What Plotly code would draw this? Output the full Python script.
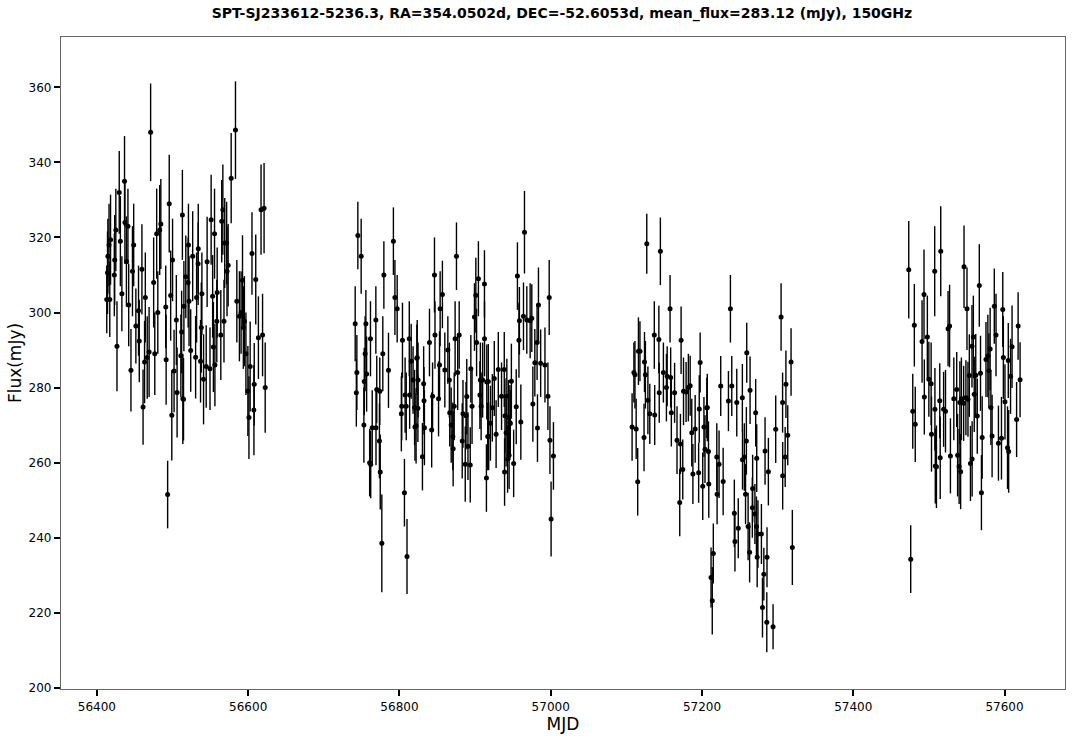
import plotly.graph_objects as go

# ---- Data ----
mjd_c1 = [56413, 56414, 56414.5, 56416, 56417, 56418, 56423, 56423.5, 56425, 56426.5,
          56429.5, 56431, 56433, 56436.5, 56437, 56439, 56441, 56442, 56445, 56447,
          56448.6, 56451.5, 56455, 56456, 56459.5, 56461, 56463, 56464, 56466.5, 56469,
          56471, 56475, 56476.5, 56479, 56480.5, 56483, 56484.5, 56491, 56491.5, 56493.5,
          56495.6, 56497.5, 56499, 56500, 56502, 56505, 56506, 56511, 56512, 56513,
          56513.6, 56514.5, 56515, 56517.5, 56520.6, 56521, 56521.8, 56524, 56526.6, 56530.5,
          56531.8, 56533.8, 56534, 56537, 56538, 56538.8, 56541, 56544.5, 56545.7, 56549.5,
          56551, 56553, 56554, 56555.5, 56556, 56558.5, 56559, 56563.8, 56565, 56566.5,
          56568, 56569, 56571.5, 56572, 56573.5, 56577.5, 56583.2, 56585, 56588.4, 56590.6,
          56592.5, 56593.6, 56595, 56597, 56599.6, 56601, 56602.6, 56605, 56607.6, 56608,
          56610, 56613.5, 56617, 56619, 56621, 56622.5]
flux_c1 = [303.5, 310.6, 315, 318, 303.5, 319.4, 310, 314, 322, 291,
           332, 319, 305, 335, 324, 313.6, 323, 302, 284.6, 311,
           318, 296.4, 300.5, 292.4, 311.5, 274.8, 286.8, 304, 288, 289.5,
           348, 308, 289, 321, 300, 322, 323.6, 301.5, 287.4, 251.5,
           329, 304.5, 272.6, 314, 284.4, 298, 278.7, 288.5, 294.8, 326,
           277, 276.9, 301.7, 309.5, 308, 318, 303, 289.9, 315, 288.1,
           304, 313, 317, 287, 296, 305, 282.2, 285.6, 313.5, 285,
           324.7, 304.3, 290.8, 321, 286, 297.7, 305.3, 294, 324.3, 327.4,
           297.7, 318.5, 318.5, 311, 312.6, 335.8, 348.6, 303, 299, 300,
           308.6, 296, 297.7, 289, 279.1, 272, 285.6, 315.7, 274, 280.9,
           308.8, 293.3, 327.4, 294, 327.8, 280]
err_c1 = [9, 11, 10, 11, 10, 12, 11, 12, 11, 12,
          11, 12, 10, 12, 11, 12, 10, 11, 11, 12,
          11, 10, 12, 11, 12, 10, 11, 12, 11, 12,
          13, 12, 11, 12, 11, 12, 12, 11, 12, 9,
          13, 12, 12, 11, 11, 12, 12, 11, 11, 12,
          12, 11, 12, 11, 12, 11, 12, 11, 12, 11,
          12, 11, 12, 11, 12, 11, 12, 11, 12, 11,
          12, 11, 12, 12, 11, 11, 12, 12, 11, 12,
          11, 12, 11, 12, 11, 12, 13, 11, 12, 11,
          12, 11, 12, 11, 12, 11, 12, 11, 12, 11,
          12, 11, 12, 11, 12, 12]

mjd_c2 = [56741.5, 56743, 56743.7, 56745, 56749.4, 56753, 56753.5, 56754.6, 56755.6, 56756.6,
          56760.6, 56761.7, 56762, 56764, 56768.8, 56769, 56770, 56773.5, 56774, 56774.6,
          56776.7, 56778, 56779.4, 56785.5, 56792, 56794, 56797, 56802.5, 56803, 56804,
          56806.6, 56807.5, 56809, 56810, 56813, 56813.5, 56815.5, 56818, 56820, 56820.5,
          56822, 56823, 56823.5, 56824.4, 56824.6, 56830.4, 56832, 56832.5, 56833, 56839.7,
          56842.6, 56843.8, 56846.3, 56847, 56851.7, 56853, 56853.8, 56856.8, 56860, 56864,
          56866, 56866.5, 56868.4, 56870.6, 56871, 56872.4, 56873.6, 56875.4, 56877, 56879,
          56883, 56884, 56887, 56888, 56889, 56890.6, 56893.6, 56894.4, 56896, 56899.2,
          56901, 56902, 56904.4, 56906.4, 56907, 56908, 56910, 56912.4, 56912.5, 56915,
          56915.5, 56916.7, 56917.5, 56918, 56920.3, 56922.8, 56925.4, 56927.8, 56930.7, 56935,
          56938.6, 56939, 56939.5, 56941, 56942, 56943, 56944, 56945, 56946, 56946.6,
          56948, 56951, 56954.4, 56956, 56958, 56958.6, 56960.5, 56964, 56965.3, 56968.4,
          56972.8, 56975, 56976.4, 56979, 56982, 56982.5, 56983.8, 56986.7, 56992.4, 56996.3,
          56998, 56999, 57000.5, 57003.6]
flux_c2 = [297, 278.6, 284, 320.5, 315, 270, 281.6, 289, 297, 283.6,
           260, 293, 259.5, 269.3, 298, 269.3, 279.5, 265.8, 279, 257.5,
           238.5, 289, 310, 284.6, 319, 304, 301, 273, 275, 292.6,
           252, 278, 275, 235, 293, 278, 287, 282, 274.7, 269.5,
           269.8, 287.8, 288, 274.5, 282, 261.6, 281, 276.5, 269.3, 292,
           268.7, 277.7, 310, 294, 277, 286, 301, 304.8, 284.7, 290,
           282, 273.3, 270, 267, 263.7, 275, 293, 315, 284, 294,
           265.8, 273, 259.6, 272.5, 277.6, 264.4, 259.4, 285, 275, 298.8,
           304.6, 292, 309, 278, 282, 275, 282, 307.6, 293, 255.9,
           281.5, 267, 281.6, 267, 270.5, 274.6, 282.4, 267.6, 284.8, 277.7,
           284.8, 257.5, 272.5, 268, 277.7, 261, 272, 262, 270.7, 270.4,
           281.7, 259.8, 274.9, 309.7, 292.6, 297.8, 270.8, 299, 321.4, 298,
           297.8, 298.5, 275.6, 286.6, 292, 269.2, 302, 286.5, 286, 277.7,
           304, 266, 245, 261.8]
err_c2 = [10, 9, 10, 9, 10, 10, 9, 10, 9, 10,
          9, 10, 9, 10, 9, 10, 9, 10, 9, 10,
          13, 10, 9, 10, 9, 10, 9, 10, 9, 10,
          9, 10, 9, 10, 10, 9, 10, 9, 10, 9,
          10, 9, 10, 9, 10, 9, 10, 9, 10, 9,
          10, 9, 10, 9, 10, 9, 10, 9, 10, 9,
          10, 9, 10, 9, 10, 9, 10, 9, 10, 9,
          10, 9, 10, 9, 10, 9, 10, 9, 10, 9,
          10, 9, 10, 9, 10, 9, 10, 9, 10, 9,
          10, 9, 10, 9, 10, 9, 10, 9, 10, 9,
          10, 9, 10, 9, 10, 9, 10, 9, 10, 9,
          10, 9, 10, 9, 10, 9, 10, 9, 11, 9,
          10, 9, 10, 9, 10, 9, 10, 9, 10, 9,
          10, 9, 10, 9]

mjd_c3 = [57107.6, 57110, 57111.4, 57113, 57115, 57116, 57118, 57123.4, 57124, 57125.2,
          57127, 57128.5, 57131, 57137, 57137.5, 57143, 57143.5, 57145, 57149, 57153,
          57154, 57157.8, 57158.6, 57159.5, 57163.8, 57167, 57170.6, 57171.5, 57172.4, 57174.6,
          57175.6, 57179, 57182, 57184.4, 57186.5, 57188, 57191, 57195.6, 57196.4, 57197.6,
          57201, 57202.6, 57204, 57206.4, 57207, 57208.6, 57209, 57212, 57213.6, 57215,
          57219.6, 57220, 57222.6, 57224.8, 57228, 57235, 57237.6, 57239.4, 57242.8, 57243.6,
          57246, 57248, 57253.4, 57253.6, 57256, 57257.6, 57258.7, 57259.2, 57261, 57263,
          57263.6, 57266.6, 57267, 57270, 57271, 57272, 57272.4, 57273, 57274, 57278.6,
          57280, 57281.8, 57283.4, 57285.7, 57286, 57287.8, 57294, 57297.5, 57304.6, 57306.6,
          57306.7, 57310, 57311, 57313.4, 57317.8, 57319.5]
flux_c3 = [269.5, 284, 283.4, 269, 254.9, 289.7, 289.7, 266.7, 286.8, 283.4,
           318.3, 276.6, 273, 294, 272.7, 292.8, 278.6, 316.3, 284, 280,
           283, 301, 282.7, 273.3, 278.6, 266, 249.4, 265, 292.6, 258.2,
           279, 278.8, 280, 280.5, 268, 257, 269, 257.3, 274.3, 286.7,
           253.7, 269.5, 263.6, 274.6, 274.7, 263, 254.3, 229.4, 223.2, 235.8,
           261.5, 251.6, 259.6, 280.4, 255, 276.4, 301, 280.4, 246.5, 239,
           276, 242.5, 277.3, 260.8, 261.5, 251.6, 265.8, 289.3, 243, 236.1,
           279.3, 248, 253.1, 246.3, 273.3, 243, 261.2, 234.8, 241, 241,
           221.4, 230.3, 263.1, 217.5, 234.8, 257.6, 216.3, 268.9, 298.8, 276,
           256.5, 261.5, 280.9, 267.3, 286.8, 237.4]
err_c3 = [9, 8, 9, 8, 9, 9, 8, 9, 8, 9,
          8, 9, 8, 9, 8, 9, 8, 9, 8, 9,
          8, 9, 8, 9, 8, 9, 9, 8, 9, 8,
          9, 8, 9, 8, 9, 8, 9, 8, 9, 8,
          9, 8, 9, 8, 9, 8, 9, 8, 9, 8,
          9, 8, 9, 8, 9, 8, 9, 8, 9, 8,
          9, 8, 9, 8, 9, 8, 9, 8, 9, 8,
          9, 8, 9, 8, 9, 8, 9, 8, 9, 8,
          8, 7, 9, 8, 8, 9, 6, 9, 9, 8,
          9, 8, 9, 8, 9, 10]

mjd_c4 = [57473.4, 57476, 57478.7, 57480.8, 57482, 57491, 57493.6, 57494, 57498, 57500,
          57503, 57503.5, 57507.7, 57508, 57508.5, 57510, 57514.4, 57515, 57515.7, 57519.5,
          57522, 57525.4, 57527.4, 57528.5, 57533, 57536.8, 57538, 57540, 57541, 57542,
          57543, 57546, 57546.5, 57549, 57550.4, 57551.7, 57553.5, 57555, 57557, 57557.2,
          57558.8, 57560, 57562, 57564, 57566.7, 57568.3, 57569.5, 57570.5, 57575.5, 57578,
          57579.4, 57581, 57582, 57583.6, 57586.5, 57588.8, 57592, 57596, 57597.7, 57598.5,
          57600.6, 57604, 57605, 57605.5, 57608, 57610, 57616, 57618, 57620.6]
flux_c4 = [311.4, 234.3, 273.7, 296.6, 270.2, 292.3, 304.8, 277.5, 293.5, 282.2,
           281, 267.6, 311, 274.2, 259.1, 258.9, 276.5, 261.3, 316.3, 274.2,
           273.7, 295.7, 296.4, 261.8, 277, 279.5, 262, 259, 276, 257.6,
           277, 275.8, 312.2, 277.3, 301, 276.9, 283.2, 259.8, 291, 261,
           293.5, 278.2, 283.3, 272.4, 307.2, 283.8, 252, 266.7, 287.5, 288.4,
           284.5, 290.3, 274.7, 267.1, 301.7, 294, 265.2, 266.5, 300.8, 288,
           276.2, 264, 287.2, 263, 283, 290.9, 271.5, 296.4, 282.1]
err_c4 = [13, 9, 10, 11, 10, 11, 12, 10, 11, 10,
          11, 10, 12, 11, 10, 11, 10, 11, 12, 10,
          11, 10, 11, 10, 11, 10, 11, 10, 11, 10,
          11, 10, 11, 10, 11, 10, 11, 10, 11, 10,
          11, 10, 11, 10, 11, 10, 10, 11, 10, 11,
          10, 11, 10, 11, 10, 11, 10, 11, 10, 11,
          10, 11, 10, 11, 10, 11, 10, 9, 10]

mjd = mjd_c1 + mjd_c2 + mjd_c3 + mjd_c4
flux = flux_c1 + flux_c2 + flux_c3 + flux_c4
flux_err = err_c1 + err_c2 + err_c3 + err_c4

title_text = "SPT-SJ233612-5236.3, RA=354.0502d, DEC=-52.6053d, mean_flux=283.12 (mJy), 150GHz"
x_ticks = [56400, 56600, 56800, 57000, 57200, 57400, 57600]
y_ticks = [200, 220, 240, 260, 280, 300, 320, 340, 360]

fig = go.Figure()
fig.add_trace(go.Scatter(
    x=mjd, y=flux, mode="markers",
    marker=dict(color="black", size=5),
    error_y=dict(type="data", array=flux_err, visible=True,
                 color="black", thickness=1.4, width=0),
    showlegend=False,
))

fig.update_layout(
    width=1079, height=739,
    paper_bgcolor="white", plot_bgcolor="white",
    margin=dict(l=61, r=14, t=37, b=50, autoexpand=False),
    font=dict(family="DejaVu Sans", color="black"),
    title=dict(text="<b>" + title_text + "</b>", x=562 / 1079, xref="container",
               xanchor="center", y=1 - 13 / 739, yref="container", yanchor="middle",
               font=dict(size=14, family="DejaVu Sans")),
)
fig.update_xaxes(
    range=[56352.5, 57680], tickvals=x_ticks, tickformat="d", ticks="outside",
    ticklen=6, tickwidth=1.5, tickcolor="black", showline=True, linecolor="#666",
    linewidth=1.3, mirror=True, showgrid=False, zeroline=False, automargin=False,
    tickfont=dict(size=12),
    title=dict(text="MJD", font=dict(size=17), standoff=3),
)
fig.update_yaxes(
    range=[199.7, 373.4], tickvals=y_ticks, tickformat="d", ticks="outside",
    ticklen=6, tickwidth=1.5, tickcolor="black", showline=True, linecolor="#666",
    linewidth=1.3, mirror=True, showgrid=False, zeroline=False, automargin=False,
    tickfont=dict(size=12),
    title=dict(text="Flux(mJy)", font=dict(size=17), standoff=2),
)

fig.write_html("out.html", config={"displayModeBar": False},
               post_script="document.body.style.margin='0';")
